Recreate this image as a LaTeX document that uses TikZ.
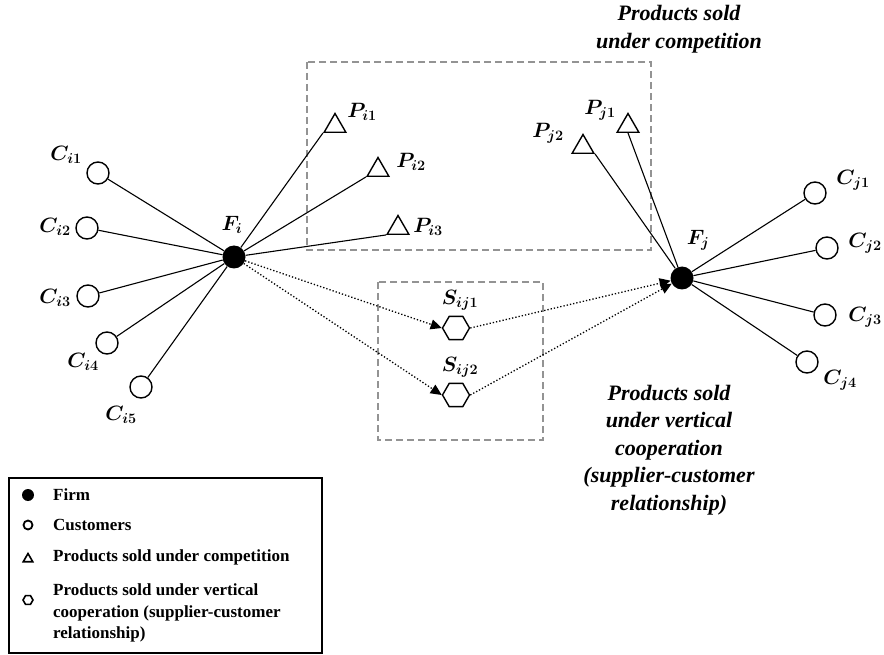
\documentclass[tikz,border=0pt]{standalone}
\usepackage{amsmath}
\usepackage{fontspec}
\setmainfont{Liberation Serif}
\usetikzlibrary{shapes.geometric,arrows.meta}
\DeclareMathSizes{20}{20}{15}{11}

\begin{document}
\begin{tikzpicture}[x=1pt,y=-1pt,
  firm/.style={circle,fill=black,minimum size=23pt,inner sep=0pt},
  customer/.style={circle,draw,line width=1.4pt,minimum size=22pt,inner sep=0pt},
  product/.style={regular polygon,regular polygon sides=3,draw,line width=1.4pt,minimum size=25pt,inner sep=0pt},
  supply/.style={regular polygon,regular polygon sides=6,draw,line width=1.4pt,minimum size=27pt,inner sep=0pt},
  lbl/.style={font=\fontsize{20}{24}\selectfont\boldmath,inner sep=0pt},
  link/.style={line width=1.1pt},
  flow/.style={dotted,line width=1.3pt,-{Triangle[length=11pt,width=10pt]}},
  group/.style={draw=gray!85,dash pattern=on 7pt off 4pt,line width=1.5pt},
  note/.style={font=\fontsize{22}{27.5}\selectfont\bfseries\itshape,align=center},
  legtext/.style={font=\fontsize{17}{21.5}\selectfont\bfseries,anchor=west,align=left,inner sep=0pt}]
\useasboundingbox (0,0) rectangle (884,655);

% dashed groups
\draw[group] (307,62) rectangle (651,250);
\draw[group] (378,282) rectangle (543,440);
\node[note] (compnote) at (679,29) {Products sold\\under competition};
\node[note] (coopnote) at (669,450) {Products sold\\under vertical\\cooperation\\(supplier-customer\\relationship)};

% firms
\node[firm] (Fi) at (234,257) {};
\node[firm] (Fj) at (682,278) {};
\node[lbl] (lFi) at (232,225) {$F_i$};
\node[lbl] (lFj) at (698,240) {$F_j$};

% customers of firm i
\node[customer] (Ci1) at (98,173) {};
\node[customer] (Ci2) at (87,228) {};
\node[customer] (Ci3) at (88,296) {};
\node[customer] (Ci4) at (107,343) {};
\node[customer] (Ci5) at (141,387) {};
\node[lbl] (lCi1) at (66,155) {$C_{i1}$};
\node[lbl] (lCi2) at (55,227) {$C_{i2}$};
\node[lbl] (lCi3) at (55,298) {$C_{i3}$};
\node[lbl] (lCi4) at (83,362) {$C_{i4}$};
\node[lbl] (lCi5) at (121,415) {$C_{i5}$};

% customers of firm j
\node[customer] (Cj1) at (815,193) {};
\node[customer] (Cj2) at (827,248) {};
\node[customer] (Cj3) at (825,315) {};
\node[customer] (Cj4) at (807,362) {};
\node[lbl] (lCj1) at (853,180) {$C_{j1}$};
\node[lbl] (lCj2) at (865,243) {$C_{j2}$};
\node[lbl] (lCj3) at (865,317) {$C_{j3}$};
\node[lbl] (lCj4) at (840,380) {$C_{j4}$};

% products sold under competition
\node[product] (Pi1) at (335,126) {};
\node[product] (Pi2) at (378,170) {};
\node[product] (Pi3) at (398,228) {};
\node[product] (Pj2) at (583,147) {};
\node[product] (Pj1) at (628,126) {};
\node[lbl] (lPi1) at (362,112) {$P_{i1}$};
\node[lbl] (lPi2) at (411,162) {$P_{i2}$};
\node[lbl] (lPi3) at (428,227) {$P_{i3}$};
\node[lbl] (lPj2) at (548,133) {$P_{j2}$};
\node[lbl] (lPj1) at (600,110) {$P_{j1}$};

% products sold under vertical cooperation
\node[supply] (Sij1) at (456,328) {};
\node[supply] (Sij2) at (456,395) {};
\node[lbl] (lSij1) at (460,300) {$S_{ij1}$};
\node[lbl] (lSij2) at (460,367) {$S_{ij2}$};

% links
\draw[link] (Ci1) -- (Fi);
\draw[link] (Ci2) -- (Fi);
\draw[link] (Ci3) -- (Fi);
\draw[link] (Ci4) -- (Fi);
\draw[link] (Ci5) -- (Fi);
\draw[link] (Pi1.corner 2) -- (Fi);
\draw[link] (Pi2.corner 2) -- (Fi);
\draw[link] (Pi3.corner 2) -- (Fi);
\draw[link] (Pj2.corner 3) -- (Fj);
\draw[link] (Pj1.south) -- (Fj);
\draw[link] (Fj) -- (Cj1);
\draw[link] (Fj) -- (Cj2);
\draw[link] (Fj) -- (Cj3);
\draw[link] (Fj) -- (Cj4);
\draw[flow] (Fi) -- (Sij1.west);
\draw[flow] (Fi) -- (Sij2.west);
\draw[flow] (Sij1.east) -- (Fj);
\draw[flow] (Sij2.east) -- (Fj);

% legend
\draw[line width=1.3pt] (9,478) rectangle (322,653);
\node[circle,fill=black,minimum size=12pt,inner sep=0pt] (lgFirm) at (28,495) {};
\node[circle,draw,line width=1.8pt,minimum size=9pt,inner sep=0pt] (lgCust) at (28,525) {};
\node[regular polygon,regular polygon sides=3,draw,line width=1.6pt,minimum size=11pt,inner sep=0pt] (lgProd) at (28,559) {};
\node[regular polygon,regular polygon sides=6,draw,line width=1.6pt,minimum size=10pt,inner sep=0pt] (lgSupp) at (28,600) {};
\node[legtext] (tFirm) at (53,495) {Firm};
\node[legtext] (tCust) at (53,525) {Customers};
\node[legtext] (tProd) at (53,557) {Products sold under competition};
\node[legtext] (tSupp) at (53,613) {Products sold under vertical\\cooperation (supplier-customer\\relationship)};
\end{tikzpicture}
\end{document}
